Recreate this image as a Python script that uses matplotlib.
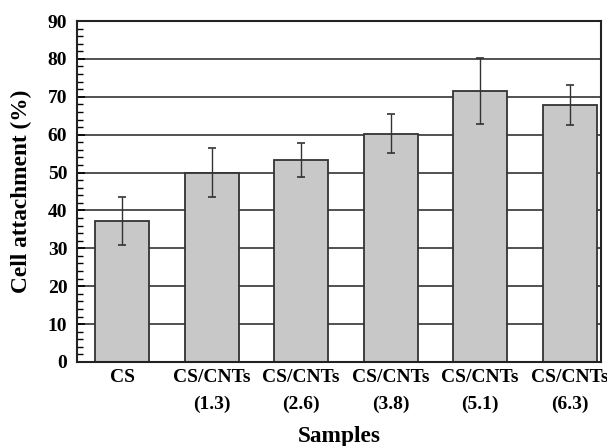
import matplotlib
matplotlib.use("Agg")
import matplotlib.pyplot as plt
import numpy as np
from matplotlib.ticker import MultipleLocator

categories = ["CS", "CS/CNTs\n(1.3)", "CS/CNTs\n(2.6)", "CS/CNTs\n(3.8)", "CS/CNTs\n(5.1)", "CS/CNTs\n(6.3)"]
values = [37.3, 50.0, 53.3, 60.3, 71.5, 67.8]
errors = [6.3, 6.5, 4.6, 5.2, 8.8, 5.2]
yticks = [0, 10, 20, 30, 40, 50, 60, 70, 80, 90]

plt.rcParams['font.family'] = ['Liberation Serif', 'DejaVu Serif']
plt.rcParams['font.weight'] = 'bold'

fig = plt.figure(figsize=(6.07, 4.46), dpi=100)
ax = fig.add_axes([77/607, 1 - 362/446, (601-77)/607, (362-21)/446])

x = np.arange(len(categories))
ax.set_axisbelow(True)
ax.yaxis.grid(True, color='#333333', linewidth=1.2)
ax.bar(x, values, width=0.6, color='#c8c8c8', edgecolor='#333333', linewidth=1.3, zorder=2)
ax.errorbar(x, values, yerr=errors, fmt='none', ecolor='#333333', elinewidth=1.0,
            capsize=2.8, capthick=1.2, zorder=3)

ax.set_xlim(-0.505, 5.35)
ax.set_ylim(0, 90)
ax.set_yticks(yticks)
ax.yaxis.set_minor_locator(MultipleLocator(2))
ax.tick_params(axis='y', which='major', direction='in', length=6, width=1.2, labelsize=14, pad=7)
ax.tick_params(axis='y', which='minor', direction='in', length=4, width=1.0)
ax.set_xticks(x)
ax.set_xticklabels(categories, fontsize=14, fontweight='bold', linespacing=1.75)
ax.tick_params(axis='x', length=0, pad=5)
for lbl in ax.get_yticklabels():
    lbl.set_fontweight('bold')

for s in ax.spines.values():
    s.set_linewidth(1.5)
    s.set_color('#222222')

ax.set_ylabel("Cell attachment (%)", fontsize=16.8, fontweight='bold', labelpad=11)
ax.set_xlabel("Samples", fontsize=16.8, fontweight='bold', labelpad=9)

fig.savefig("out.png", dpi=100)
